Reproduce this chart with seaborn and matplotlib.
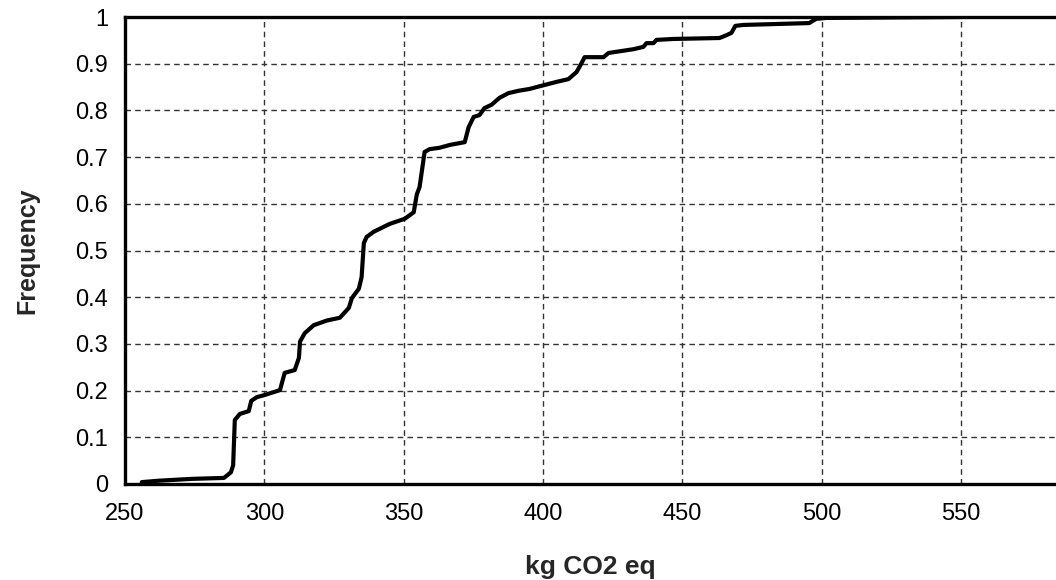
import matplotlib
matplotlib.use("Agg")
import matplotlib.pyplot as plt
import matplotlib.ticker as mticker
import seaborn as sns
import pandas as pd

# Cumulative frequency curve
kg_co2 = [256, 262, 274, 285.5, 288, 288.8, 289.4, 291.2, 294.4, 295.3, 297.3, 299.8,
          305.6, 307.3, 310.9, 312.4, 312.8, 314.5, 317.7, 322.4, 327.1, 330.3, 331.4,
          333.9, 334.9, 335.7, 336.7, 339.2, 345.0, 350.4, 353.6, 354.7, 355.7, 357.5,
          359.3, 362.9, 366.5, 371.9, 373.3, 375.1, 377.2, 379.0, 381.5, 384.4, 387.6,
          391.2, 395.2, 397.7, 404.8, 409.1, 412.0, 413.8, 414.9, 421.7, 423.5, 432.4,
          436.0, 437.1, 439.6, 440.7, 446.8, 463.3, 465.8, 467.6, 469.0, 471.9, 495.5,
          498.0, 501.6, 550.0]
frequency = [0.004, 0.007, 0.011, 0.013, 0.025, 0.04, 0.137, 0.150, 0.156, 0.178, 0.186,
             0.190, 0.201, 0.238, 0.244, 0.27, 0.305, 0.323, 0.340, 0.350, 0.356, 0.377,
             0.398, 0.418, 0.443, 0.516, 0.529, 0.540, 0.557, 0.568, 0.582, 0.620, 0.636,
             0.711, 0.717, 0.720, 0.726, 0.732, 0.764, 0.786, 0.790, 0.805, 0.812, 0.827,
             0.837, 0.842, 0.846, 0.850, 0.861, 0.867, 0.882, 0.901, 0.914, 0.914, 0.923,
             0.931, 0.936, 0.944, 0.944, 0.951, 0.953, 0.955, 0.961, 0.966, 0.981, 0.983,
             0.987, 0.996, 0.998, 1.0]
x_ticks = [250, 300, 350, 400, 450, 500, 550]
y_ticks = [0, 0.1, 0.2, 0.3, 0.4, 0.5, 0.6, 0.7, 0.8, 0.9, 1.0]

sns.set_style("white")
plt.rcParams['font.family'] = ['Liberation Sans', 'DejaVu Sans']

df = pd.DataFrame({"kg CO2 eq": kg_co2, "Frequency": frequency})

fig = plt.figure(figsize=(10.56, 5.80), dpi=100)
ax = fig.add_axes([125 / 1056, (580 - 484) / 580, (1056 - 125) / 1056, 467 / 580])

sns.lineplot(data=df, x="kg CO2 eq", y="Frequency", ax=ax, color="black",
             linewidth=3.0, sort=False, estimator=None, zorder=3)

ax.set_xlim(250, 250 + (1056 - 125) / 2.787)
ax.set_ylim(0, 1)
ax.set_xticks(x_ticks)
ax.set_yticks(y_ticks)
ax.yaxis.set_major_formatter(mticker.FuncFormatter(lambda v, p: f"{v:g}"))

ax.grid(True, which="major", color="#333333", linestyle=(0, (4, 3)), linewidth=1.0)
ax.set_axisbelow(True)

for side in ["left", "top", "bottom"]:
    ax.spines[side].set_visible(True)
    ax.spines[side].set_color("black")
    ax.spines[side].set_linewidth(2.4)
ax.spines["right"].set_visible(False)

ax.tick_params(axis="both", length=0, labelsize=17, colors="black")
ax.tick_params(axis="y", pad=12)
ax.tick_params(axis="x", pad=14)

ax.set_xlabel("kg CO2 eq", fontsize=19, fontweight="bold", labelpad=21)
ax.set_ylabel("Frequency", fontsize=18, fontweight="bold", labelpad=26)

fig.savefig("out.png", dpi=100)
